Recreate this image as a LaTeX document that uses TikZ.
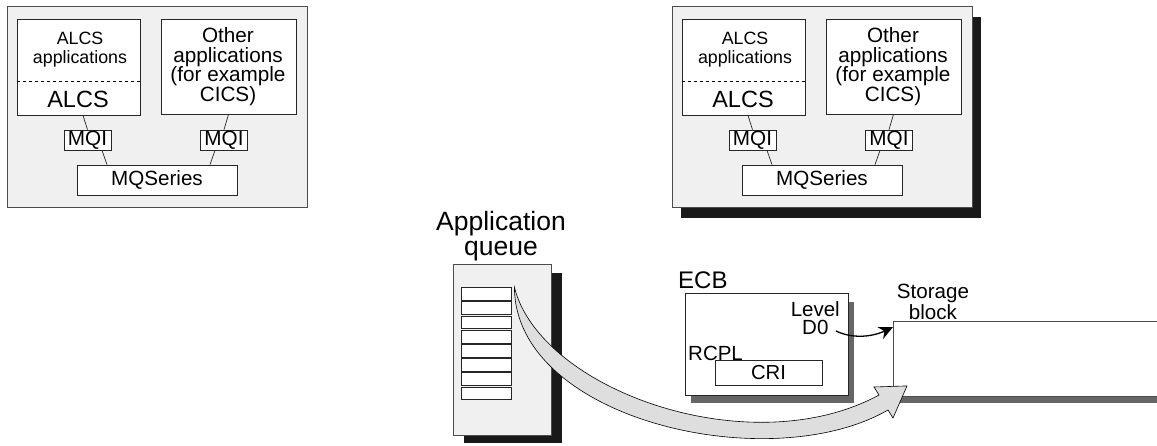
\documentclass[tikz,border=0pt]{standalone}
\usepackage{fontspec}
\setmainfont{Liberation Sans}
\usetikzlibrary{calc,positioning,arrows.meta}

\definecolor{panelgray}{gray}{0.94}
\definecolor{linegray}{gray}{0.3}
\definecolor{shadowgray}{gray}{0.4}
\definecolor{arrowgray}{gray}{0.87}

\newcommand\fs[2]{\fontsize{#1}{#2}\selectfont}

\tikzset{
  panel/.style={draw=linegray, fill=panelgray, line width=0.9pt, inner sep=0pt},
  inbox/.style={draw=black!85, fill=white, line width=0.8pt, inner sep=0pt},
  wire/.style={line width=0.7pt, black!85},
  txt/.style={inner sep=0pt, align=center},
}

% one MQSeries system, #1 = prefix of the node names
\newcommand\mqsystem[1]{
  \node[panel, minimum width=300pt, minimum height=201pt] (#1box) at (157,106.5) {};
  \node[inbox, minimum width=123pt, minimum height=96pt] (#1alcs) at (78.5,67) {};
  \node[inbox, minimum width=135pt, minimum height=95pt] (#1other) at (228.5,66.5) {};
  \draw[dashed, line width=0.6pt] (#1alcs.west |- 0,81) -- (#1alcs.east |- 0,81);
  \node[txt, font=\fs{17.8}{19}] (#1apps) at (80,50) {ALCS\\applications};
  \node[txt, font=\fs{23.5}{24}] (#1alcstxt) at (78,99) {ALCS};
  \node[txt, font=\fs{20.7}{19.5}] (#1othertxt) at (228,66.5) {Other\\applications\\(for example\\CICS)};
  \node[inbox, minimum width=47pt, minimum height=20pt, font=\fs{20.7}{21}] (#1mqil) at (87.5,140) {MQI};
  \node[inbox, minimum width=47pt, minimum height=20pt, font=\fs{20.7}{21}] (#1mqir) at (224,140) {MQI};
  \node[inbox, minimum width=160pt, minimum height=30pt, font=\fs{20.6}{21}] (#1mqs) at (157,180) {MQSeries};
  \draw[wire] ($(#1alcs.south)+(4.5,0)$) -- (#1mqil.north);
  \draw[wire] ($(#1mqil.south)+(14.5,0)$) -- ($(#1mqs.north)+(-50,0)$);
  \draw[wire] (#1other.south) -- (#1mqir.north);
  \draw[wire] ($(#1mqir.south)+(-9,0)$) -- ($(#1mqs.north)+(53,0)$);
}

\begin{document}
\begin{tikzpicture}[x=1pt, y=-1pt]
  \useasboundingbox (0,0) rectangle (1157,445);

  % the two systems, the second one with a shadow
  \mqsystem{a}
  \fill[black!90] (681,17) rectangle (981,218);
  \begin{scope}[shift={(665,0)}]
    \mqsystem{b}
  \end{scope}

  % application queue
  \node[txt, font=\fs{26.5}{25}] (qlabel) at (501,236) {Application\\queue};
  \fill[black!90] (464,273) rectangle (562,443);
  \node[panel, minimum width=98pt, minimum height=171pt] (queue) at (502,349.5) {};
  \foreach \i in {0,...,7}
    \node[inbox, minimum width=50pt, minimum height=12.8pt] (slot\i) at (486,294+\i*14.2) {};

  % ECB
  \node[txt, font=\fs{24}{24}, anchor=base west] (ecblbl) at (678,288) {ECB};
  \fill[shadowgray] (691,302) rectangle (854,403);
  \node[inbox, minimum width=163pt, minimum height=102pt] (ecb) at (766.5,344) {};
  \node[txt, font=\fs{20.5}{18.5}, anchor=north east] (level) at (840,301) {Level\\D0};
  \node[txt, font=\fs{20.5}{21}, anchor=base west] (rcpl) at (688,360) {RCPL};
  \node[inbox, minimum width=107pt, minimum height=25pt, font=\fs{20.3}{21}] (cri) at (768.5,372.5) {CRI};

  % storage block
  \node[txt, font=\fs{20.6}{17.5}] (storelbl) at (933,302) {Storage\\block};
  \fill[shadowgray] (900,396) rectangle (1160,403);
  \node[draw=linegray, fill=white, line width=0.9pt, minimum width=270pt, minimum height=75pt,
        anchor=north west] (store) at (893,321) {};

  % pointers
  \coordinate (tail) at ([xshift=3pt]slot0.north east);
  \coordinate (tip) at ([shift={(14pt,11pt)}]store.south west);
  \filldraw[fill=arrowgray, draw=black, line width=0.6pt, line join=miter]
    (tail) .. controls (540,390) and (750,465) .. (879,395) -- (874,387) -- (tip)
    -- (893,418) -- (888,410) .. controls (770,478) and (515,420) .. (tail) -- cycle;
  \draw[line width=1.3pt, -{Stealth[length=14pt,width=13pt]}]
    ([shift={(-4pt,4pt)}]level.south east) .. controls (850,338) and (870,338) .. ([yshift=-6pt]store.north west);
\end{tikzpicture}
\end{document}
